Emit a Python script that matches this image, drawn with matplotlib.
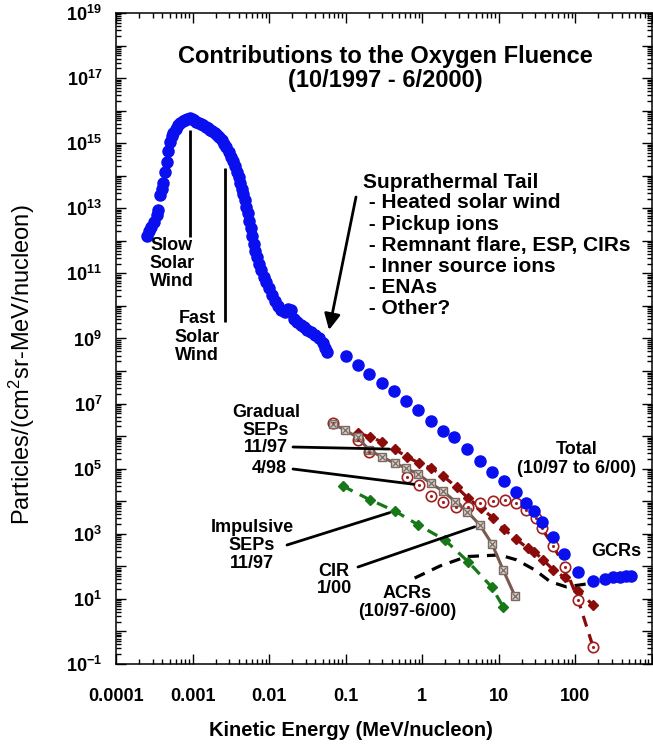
import numpy as np
import matplotlib
matplotlib.use('Agg')
import matplotlib.pyplot as plt
from matplotlib.ticker import LogLocator, FuncFormatter, NullFormatter

plt.rcParams['font.family'] = 'Liberation Sans'
plt.rcParams['mathtext.fontset'] = 'custom'
plt.rcParams['mathtext.rm'] = 'Liberation Sans'
plt.rcParams['mathtext.bf'] = 'Liberation Sans:bold'
plt.rcParams['mathtext.it'] = 'Liberation Sans:italic'

# all values are log10(energy MeV/n) and log10(fluence)
total_loge = [-3.60, -3.57, -3.54, -3.51, -3.47, -3.45, -3.42, -3.40, -3.38, -3.36,
              -3.34, -3.32, -3.30, -3.27, -3.25, -3.22, -3.19, -3.16, -3.13, -3.10,
              -3.07, -3.04, -3.01, -2.98, -2.95, -2.92, -2.89, -2.86, -2.83, -2.80,
              -2.77, -2.74, -2.71, -2.68, -2.65, -2.62, -2.59, -2.56, -2.53, -2.50,
              -2.47, -2.44, -2.42, -2.40, -2.38, -2.36, -2.34, -2.32, -2.30, -2.28,
              -2.26, -2.24, -2.22, -2.20, -2.18, -2.16, -2.13, -2.10, -2.07, -2.04,
              -2.00, -1.96, -1.92, -1.88, -1.84, -1.79, -1.75, -1.71, -1.67, -1.63,
              -1.59, -1.55, -1.50, -1.45, -1.40, -1.35, -1.30, -1.27, -1.25,
              -1.00, -0.845, -0.69, -0.53, -0.37, -0.21, -0.05, 0.11, 0.265, 0.42,
              0.59, 0.75, 0.905, 1.065, 1.22, 1.36, 1.46, 1.56, 1.71, 1.85,
              2.035, 2.23, 2.38, 2.49, 2.58, 2.66, 2.73]
total_logf = [12.15, 12.30, 12.42, 12.58, 12.80, 12.95, 13.40, 13.60, 13.78, 14.10,
              14.42, 14.75, 15.05, 15.22, 15.32, 15.45, 15.55, 15.62, 15.68, 15.72,
              15.75, 15.77, 15.74, 15.70, 15.66, 15.62, 15.58, 15.55, 15.51, 15.47,
              15.42, 15.37, 15.32, 15.26, 15.18, 15.10, 14.99, 14.88, 14.72, 14.58,
              14.45, 14.30, 14.10, 13.95, 13.78, 13.60, 13.45, 13.25, 13.05, 12.85,
              12.62, 12.40, 12.15, 11.90, 11.70, 11.50, 11.28, 11.10, 10.90, 10.75,
              10.55, 10.35, 10.15, 10.00, 9.88, 9.82, 9.90, 9.88, 9.60, 9.50,
              9.42, 9.35, 9.27, 9.20, 9.10, 9.00, 8.86, 8.70, 8.59,
              8.46, 8.19, 7.90, 7.62, 7.40, 7.09, 6.80, 6.47, 6.17, 5.96,
              5.60, 5.25, 4.90, 4.62, 4.29, 3.94, 3.71, 3.37, 2.89, 2.37,
              1.82, 1.55, 1.61, 1.66, 1.68, 1.70, 1.70]

grad1197_loge = [-0.84, -0.68, -0.53, -0.358, -0.205, -0.04, 0.12, 0.27, 0.45, 0.60,
                 0.77, 0.93, 1.065, 1.23, 1.38, 1.46, 1.58, 1.71, 1.86, 2.035, 2.23]
grad1197_logf = [6.10, 5.97, 5.83, 5.60, 5.37, 5.17, 5.01, 4.78, 4.43, 4.09,
                 3.78, 3.48, 3.14, 2.83, 2.55, 2.45, 2.20, 1.89, 1.66, 1.25, 0.81]

grad498_loge = [-1.16, -0.84, -0.69, -0.205, -0.04, 0.12, 0.27, 0.44, 0.60, 0.75,
                0.93, 1.08, 1.23, 1.35, 1.49, 1.56, 1.71, 1.86, 2.035, 2.23]
grad498_logf = [6.39, 5.88, 5.52, 4.75, 4.50, 4.16, 3.99, 3.83, 3.83, 3.94,
                4.02, 4.04, 3.96, 3.73, 3.48, 3.17, 2.63, 1.99, 0.97, -0.47]

cir_loge = [-1.16, -1.01, -0.845, -0.69, -0.52, -0.358, -0.21, -0.05, 0.11, 0.265,
            0.43, 0.59, 0.752, 0.91, 1.056, 1.21]
cir_logf = [6.37, 6.19, 5.96, 5.57, 5.35, 5.17, 5.01, 4.83, 4.55, 4.32,
            3.99, 3.68, 3.27, 2.69, 1.89, 1.09]

imp_loge = [-1.04, -0.68, -0.358, -0.05, 0.295, 0.60, 0.905, 1.056]
imp_logf = [4.47, 4.04, 3.70, 3.27, 2.81, 2.14, 1.37, 0.76]

acr_loge = [-0.10, 0.23, 0.58, 1.01, 1.23, 1.47, 1.67, 1.88, 2.15]
acr_logf = [1.64, 2.01, 2.30, 2.35, 2.20, 1.89, 1.53, 1.37, 1.46]

W, H = 653, 747
L, R, T, B = 116, 652, 13, 664


def fx(x):
    return (x - L) / (R - L)


def fy(y):
    return (B - y) / (B - T)


def p(a):
    return 10 ** np.array(a, dtype=float)


fig = plt.figure(figsize=(W / 100, H / 100), dpi=100)
ax = fig.add_axes([L / W, 1 - B / H, (R - L) / W, (B - T) / H])
ax.set_xscale('log')
ax.set_yscale('log')
ax.set_xlim(1e-4, 1e3)
ax.set_ylim(1e-1, 1e19)

blue = '#0a0ff0'
dred = '#8b0a0a'
green = '#187818'
brown = '#7a5a50'

# ACR
ax.plot(p(acr_loge), p(acr_logf), color='k', lw=2.3, dashes=(3.5, 2.5), zorder=2)
# impulsive SEPs
ax.plot(p(imp_loge), p(imp_logf), color=green, lw=2.3, dashes=(3.5, 2.5),
        marker='D', ms=5.5, mfc=green, mec=green, zorder=3)
# gradual 11/97
ax.plot(p(grad1197_loge), p(grad1197_logf), color=dred, lw=2.3, dashes=(3.5, 2.5),
        marker='D', ms=5.5, mfc=dred, mec=dred, zorder=3)
# gradual 4/98
ax.plot(p(grad498_loge[12:]), p(grad498_logf[12:]), color=dred, lw=2.3,
        dashes=(3.5, 2.5), zorder=3)
ax.plot(p(grad498_loge), p(grad498_logf), ls='none', marker='o', ms=7.5,
        mfc='white', mec='#a02020', mew=1.2, zorder=4)
ax.plot(p(grad498_loge), p(grad498_logf), ls='none', marker='.', ms=2.5,
        color='#a02020', zorder=5)
# CIR
ax.plot(p(cir_loge), p(cir_logf), color=brown, lw=2.2, marker='s', ms=5.5,
        mfc='#d8d0cc', mec='#7a6a62', mew=1.0, zorder=4)
ax.plot(p(cir_loge), p(cir_logf), ls='none', marker='x', ms=3.8,
        color='#7a6a62', mew=0.9, zorder=5)
# total
ax.plot(p(total_loge), p(total_logf), ls='none', marker='o', ms=8,
        mfc=blue, mec=blue, zorder=6)

# ticks
ax.xaxis.set_major_locator(LogLocator(base=10, numticks=20))
ax.xaxis.set_minor_locator(LogLocator(base=10, subs=np.arange(2, 10), numticks=20))
ax.yaxis.set_major_locator(LogLocator(base=10, numticks=40))
ax.yaxis.set_minor_locator(LogLocator(base=10, subs=np.arange(2, 10), numticks=40))
ax.xaxis.set_minor_formatter(NullFormatter())
ax.yaxis.set_minor_formatter(NullFormatter())

xlabels = {-4: '0.0001', -3: '0.001', -2: '0.01', -1: '0.1', 0: '1', 1: '10', 2: '100'}
ax.xaxis.set_major_formatter(FuncFormatter(
    lambda v, pos: xlabels.get(int(round(np.log10(v))), '')))


def yfmt(v, pos):
    e = int(round(np.log10(v)))
    if e % 2 == 1 or e % 2 == -1:
        return r'$\mathbf{10^{%d}}$' % e
    return ''


ax.yaxis.set_major_formatter(FuncFormatter(yfmt))
ax.tick_params(which='both', direction='in', top=True, right=True, width=1)
ax.tick_params(which='major', length=7)
ax.tick_params(which='minor', length=3.5)
ax.tick_params(axis='x', which='major', pad=17, labelsize=13)
ax.tick_params(axis='y', which='major', pad=10, labelsize=13)
for lab in ax.get_xticklabels():
    lab.set_fontweight('bold')
for s in ax.spines.values():
    s.set_linewidth(1.1)

fig.text(351 / W, 1 - 730 / H, 'Kinetic Energy (MeV/nucleon)', ha='center',
         va='center', fontsize=14.5, fontweight='bold')
fig.text(22 / W, 1 - 365 / H, 'Particles/(cm$^2$sr-MeV/nucleon)', ha='center',
         va='center', rotation=90, fontsize=17)


def put_lines(lines, x, y0, dy, size, ha='center'):
    for i, s in enumerate(lines):
        ax.text(fx(x), fy(y0 + i * dy), s, transform=ax.transAxes, ha=ha,
                va='center', fontsize=size, fontweight='bold', zorder=8)


put_lines(['Contributions to the Oxygen Fluence', '(10/1997 - 6/2000)'], 385, 57, 23, 17)
put_lines(['Suprathermal Tail'], 363, 182, 21, 15, ha='left')
put_lines([' - Heated solar wind', ' - Pickup ions', ' - Remnant flare, ESP, CIRs',
           ' - Inner source ions', ' - ENAs', ' - Other?'], 363, 203, 21.2, 15, ha='left')
put_lines(['Slow', 'Solar', 'Wind'], 172, 245, 18.5, 13)
put_lines(['Fast', 'Solar', 'Wind'], 197, 319, 18.5, 13)
put_lines(['Gradual', 'SEPs', '11/97'], 266, 413, 17.5, 13)
put_lines(['4/98'], 269, 469, 18, 13)
put_lines(['Impulsive', 'SEPs', '11/97'], 252, 527, 18.5, 13)
put_lines(['CIR', '1/00'], 334, 571, 17.5, 13)
put_lines(['ACRs', '(10/97-6/00)'], 407, 593, 18, 13)
put_lines(['Total', '(10/97 to 6/00)'], 577, 450, 19, 13)
put_lines(['GCRs'], 616, 552, 18, 13)

# leader lines
lk = dict(color='k', lw=2, solid_capstyle='butt', transform=ax.transAxes, zorder=7)
ax.plot([fx(190), fx(190)], [fy(130), fy(237)], **lk)
ax.plot([fx(225), fx(225)], [fy(168), fy(322)], **lk)


def leader(x0, y0, ex, ey):
    ax.annotate('', xy=(10 ** ex, 10 ** ey), xycoords='data',
                xytext=(fx(x0), fy(y0)), textcoords='axes fraction',
                arrowprops=dict(arrowstyle='-', lw=2, color='k', shrinkA=0, shrinkB=4),
                zorder=7)


leader(293, 447, grad1197_loge[3], grad1197_logf[3])
leader(293, 469, grad498_loge[4], grad498_logf[4])
leader(287, 545, imp_loge[2], imp_logf[2])
leader(358, 567, cir_loge[12], cir_logf[12])

ax.annotate('', xy=(fx(329), fy(330)), xycoords='axes fraction',
            xytext=(fx(356), fy(197)), textcoords='axes fraction',
            arrowprops=dict(arrowstyle='-|>', lw=2, color='k', mutation_scale=24,
                            shrinkA=0, shrinkB=0), zorder=7)

fig.savefig('out.png', dpi=100)
